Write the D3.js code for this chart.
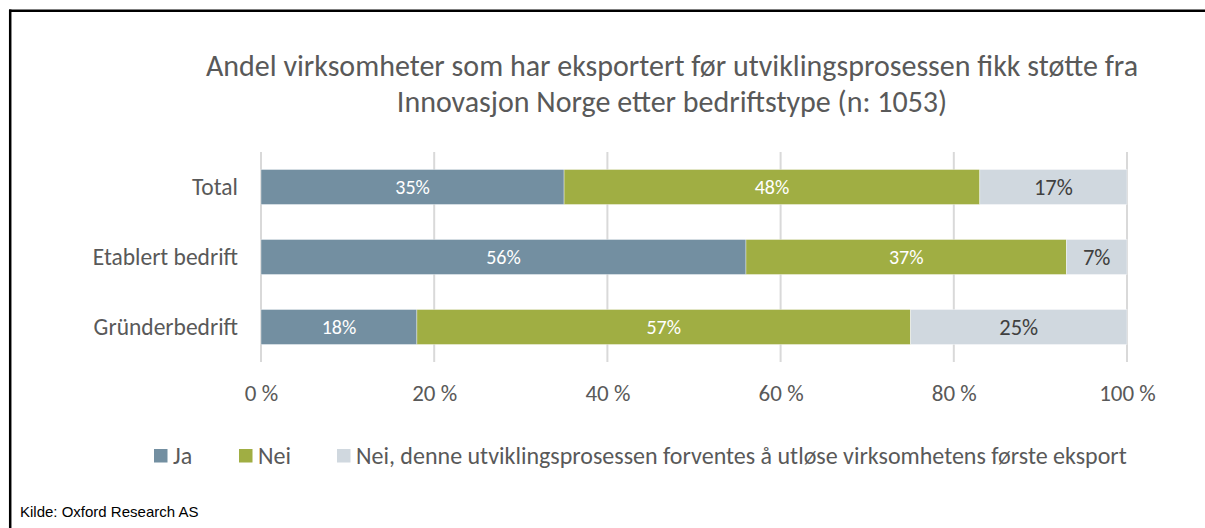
<!DOCTYPE html>
<html>
<head>
<meta charset="utf-8">
<script src="https://cdn.jsdelivr.net/npm/d3@7"></script>
<style>
  html, body { margin: 0; padding: 0; background: #fff; }
  svg { display: block; }
</style>
</head>
<body>
<svg id="chart" width="1205" height="528"></svg>
<script>
// Categories (top to bottom) and series shares in percent
const categories = ["Total", "Etablert bedrift", "Gründerbedrift"];
const seriesNames = ["Ja", "Nei", "Nei, denne utviklingsprosessen forventes å utløse virksomhetens første eksport"];
const ja  = [35, 56, 18];
const nei = [48, 37, 57];
const neiFirst = [17, 7, 25];
const tickValues = [0, 20, 40, 60, 80, 100];
const tickLabels = ["0 %", "20 %", "40 %", "60 %", "80 %", "100 %"];
const titleLines = [
  "Andel virksomheter som har eksportert før utviklingsprosessen fikk støtte fra",
  "Innovasjon Norge etter bedriftstype (n: 1053)"
];
const source = "Kilde: Oxford Research AS";

const colors = ["#738fa1", "#a0ae43", "#d0d8df"];
const labelColors = ["#ffffff", "#ffffff", "#404040"];
const labelSizes = [20, 20, 22.5];
const font = "Carlito, Calibri, Lato, sans-serif";
const textGrey = "#595959";

const svg = d3.select("#chart");

// Frame: top and left rules
svg.append("line").attr("x1", 9).attr("x2", 1205).attr("y1", 10.7).attr("y2", 10.7)
  .attr("stroke", "#000").attr("stroke-width", 2.5);
svg.append("line").attr("x1", 10.2).attr("x2", 10.2).attr("y1", 9.5).attr("y2", 528)
  .attr("stroke", "#000").attr("stroke-width", 2.5);

// Title
svg.append("g").selectAll("text").data(titleLines).join("text")
  .attr("x", 672).attr("y", (d, i) => 76 + i * 35.5)
  .attr("text-anchor", "middle")
  .attr("font-family", font).attr("font-size", 30).attr("fill", textGrey)
  .text(d => d);

const x = d3.scaleLinear().domain([0, 100]).range([261, 1127]);
const y = d3.scaleBand().domain(categories).range([152, 362])
  .paddingInner(0.5).paddingOuter(0.25);

// Vertical gridlines
svg.append("g").selectAll("line").data(tickValues).join("line")
  .attr("x1", d => x(d)).attr("x2", d => x(d))
  .attr("y1", 152).attr("y2", 362)
  .attr("stroke", "#d9d9d9").attr("stroke-width", 2);

// Stacked data
const rows = categories.map((c, i) => ({ cat: c, vals: [ja[i], nei[i], neiFirst[i]] }));
const segs = [];
rows.forEach(r => {
  let acc = 0;
  r.vals.forEach((v, k) => {
    segs.push({ cat: r.cat, k, v, x0: acc, x1: acc + v });
    acc += v;
  });
});

const bars = svg.append("g");
bars.selectAll("rect").data(segs).join("rect")
  .attr("x", d => x(d.x0)).attr("width", d => x(d.x1) - x(d.x0))
  .attr("y", d => y(d.cat)).attr("height", y.bandwidth())
  .attr("fill", d => colors[d.k])
  .attr("stroke", "#ffffff").attr("stroke-opacity", 0.5).attr("stroke-width", 0.75);

bars.selectAll("text").data(segs).join("text")
  .attr("x", d => x((d.x0 + d.x1) / 2))
  .attr("y", d => y(d.cat) + y.bandwidth() / 2)
  .attr("dy", "0.35em")
  .attr("text-anchor", "middle")
  .attr("font-family", font)
  .attr("font-size", d => labelSizes[d.k])
  .attr("fill", d => labelColors[d.k])
  .text(d => d.v + "%");

// Category axis labels
svg.append("g").selectAll("text").data(categories).join("text")
  .attr("x", 238).attr("y", d => y(d) + y.bandwidth() / 2)
  .attr("dy", "0.35em").attr("text-anchor", "end")
  .attr("font-family", font).attr("font-size", 23.5).attr("fill", textGrey)
  .text(d => d);

// Value axis
const xAxis = d3.axisBottom(x).tickValues(tickValues)
  .tickFormat((d, i) => tickLabels[i]).tickSize(0).tickPadding(0);
const ax = svg.append("g").attr("transform", "translate(0,401)").call(xAxis);
ax.select(".domain").remove();
ax.selectAll("text").attr("font-family", font).attr("font-size", 23)
  .attr("fill", textGrey).attr("y", 0).attr("dy", 0);

// Legend
const legendX = [154, 239, 337];
const lg = svg.append("g").selectAll("g").data(seriesNames).join("g")
  .attr("transform", (d, i) => `translate(${legendX[i]},449)`);
lg.append("rect").attr("width", 13.5).attr("height", 13.5).attr("fill", (d, i) => colors[i]);
lg.append("text").attr("x", 19).attr("y", 7).attr("dy", "0.35em")
  .attr("font-family", font).attr("font-size", 24).attr("fill", textGrey)
  .text(d => d);

// Source note
svg.append("text").attr("x", 20).attr("y", 517)
  .attr("font-family", "Liberation Sans, Arial, sans-serif").attr("font-size", 15)
  .attr("fill", "#000").text(source);
</script>
</body>
</html>
